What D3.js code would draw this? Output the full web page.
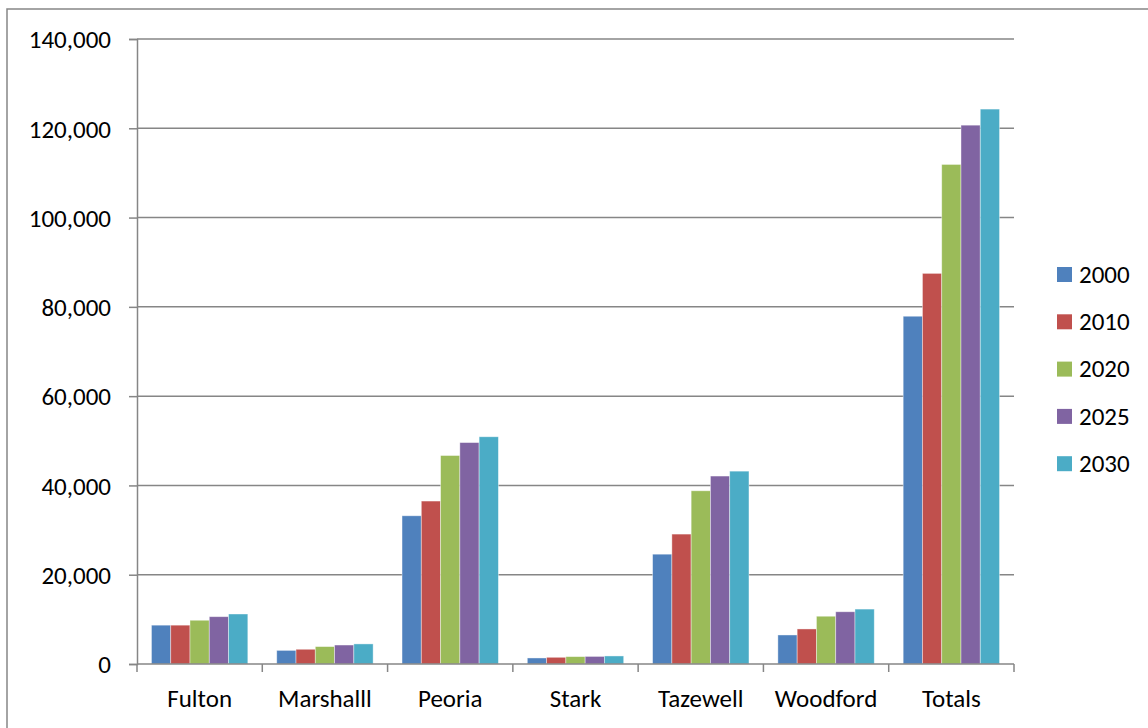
<!DOCTYPE html>
<html>
<head>
<meta charset="utf-8">
<script src="https://cdn.jsdelivr.net/npm/d3@7"></script>
<style>
  body { margin: 0; background: #fff; }
  svg text { font-family: Carlito, Lato, "Open Sans", sans-serif; fill: #000; }
</style>
</head>
<body>
<div id="chart"></div>
<script>
// categories and series
var counties = ["Fulton", "Marshalll", "Peoria", "Stark", "Tazewell", "Woodford", "Totals"];
var years = ["2000", "2010", "2020", "2025", "2030"];
var colors = ["#4f81bd", "#c0504d", "#9bbb59", "#8064a2", "#4bacc6"];
var yTicks = [0, 20000, 40000, 60000, 80000, 100000, 120000, 140000];

// values per year, one per county
var v2000 = [8700, 3050, 33200, 1350, 24600, 6500, 77900];
var v2010 = [8700, 3300, 36500, 1500, 29100, 7850, 87500];
var v2020 = [9800, 3900, 46700, 1650, 38800, 10700, 111900];
var v2025 = [10600, 4250, 49600, 1700, 42100, 11700, 120700];
var v2030 = [11200, 4500, 50900, 1800, 43200, 12300, 124300];
var series = [v2000, v2010, v2020, v2025, v2030];

var width = 1148, height = 728;
var svg = d3.select("#chart").append("svg")
    .attr("width", width)
    .attr("height", height);

// chart border (right and bottom edges fall outside the picture)
svg.append("rect")
    .attr("x", 7).attr("y", 9)
    .attr("width", 1160).attr("height", 740)
    .attr("fill", "none")
    .attr("stroke", "#868686")
    .attr("stroke-width", 1.5);

var plotL = 137, plotR = 1014, plotT = 39, plotB = 664;

var x0 = d3.scaleBand().domain(counties).range([plotL, plotR]).paddingInner(0).paddingOuter(0);
// gap width 150% -> 1.5 bar widths split over both sides
var x1 = d3.scaleBand().domain(years).range([0, x0.bandwidth()]).paddingOuter(0.75).paddingInner(0);
var y = d3.scaleLinear().domain([0, 140000]).range([plotB, plotT]);

// gridlines
svg.append("g")
    .selectAll("line")
    .data(yTicks.slice(1))
    .join("line")
    .attr("x1", plotL).attr("x2", plotR)
    .attr("y1", function(d) { return y(d); })
    .attr("y2", function(d) { return y(d); })
    .attr("stroke", "#868686")
    .attr("stroke-width", 1.5);

// bars
var groups = svg.append("g")
    .selectAll("g")
    .data(years)
    .join("g")
    .attr("fill", function(d, i) { return colors[i]; });

groups.selectAll("rect")
    .data(function(d, i) { return series[i].map(function(v, j) { return {year: d, county: counties[j], value: v}; }); })
    .join("rect")
    .attr("x", function(d) { return x0(d.county) + x1(d.year); })
    .attr("width", x1.bandwidth())
    .attr("y", function(d) { return y(d.value); })
    .attr("height", function(d) { return plotB - y(d.value); })
    .attr("stroke", "rgba(255,255,255,0.5)")
    .attr("stroke-width", 0.8);

// y axis
var yAxis = d3.axisLeft(y).tickValues(yTicks).tickSize(8).tickPadding(18)
    .tickFormat(d3.format(","));
var gy = svg.append("g")
    .attr("transform", "translate(" + plotL + ",0)")
    .call(yAxis);
gy.select(".domain").attr("stroke", "#868686").attr("stroke-width", 1.5);
gy.selectAll(".tick line").attr("stroke", "#868686").attr("stroke-width", 1.5);
gy.selectAll(".tick text").style("font-size", "25px").attr("dy", "0.35em");

// x axis
var xAxis = d3.axisBottom(x0).tickSize(0).tickPadding(34);
var gx = svg.append("g")
    .attr("transform", "translate(0," + plotB + ")")
    .call(xAxis);
gx.select(".domain").attr("stroke", "#868686").attr("stroke-width", 1.5)
    .attr("d", "M" + plotL + ",0H" + plotR);
gx.selectAll(".tick text").style("font-size", "25px").attr("dy", "0.35em");

// tick marks between categories
svg.append("g")
    .selectAll("line")
    .data(d3.range(counties.length + 1))
    .join("line")
    .attr("x1", function(i) { return plotL + i * x0.bandwidth(); })
    .attr("x2", function(i) { return plotL + i * x0.bandwidth(); })
    .attr("y1", plotB).attr("y2", plotB + 8)
    .attr("stroke", "#868686")
    .attr("stroke-width", 1.5);

// legend
var legend = svg.append("g")
    .selectAll("g")
    .data(years)
    .join("g")
    .attr("transform", function(d, i) { return "translate(1057," + (274 + i * 47.3) + ")"; });

legend.append("rect")
    .attr("x", 0).attr("y", -7)
    .attr("width", 15).attr("height", 15)
    .attr("fill", function(d, i) { return colors[i]; });

legend.append("text")
    .attr("x", 22).attr("y", 0)
    .attr("dy", "0.35em")
    .style("font-size", "25px")
    .text(function(d) { return d; });
</script>
</body>
</html>
